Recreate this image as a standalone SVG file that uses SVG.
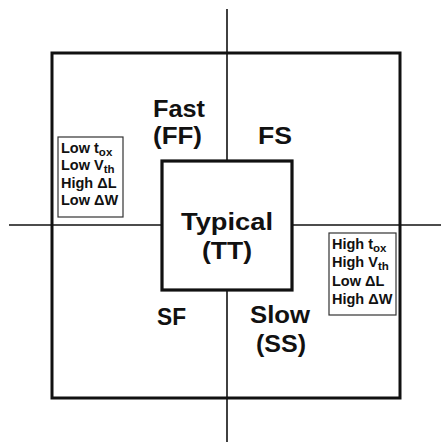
<svg xmlns="http://www.w3.org/2000/svg" width="441" height="443" viewBox="0 0 441 443">
<style>
.big{font-family:"Liberation Sans",Arial,sans-serif;font-weight:bold;font-size:24px;fill:#111}
.sm{font-family:"Liberation Sans",Arial,sans-serif;font-weight:bold;font-size:14.5px;fill:#111}
.sub{font-size:11.5px}
.frame{fill:none;stroke:#111;stroke-width:3}
.axis{stroke:#111;stroke-width:1.6;fill:none}
.tbox{fill:#fff;stroke:#333;stroke-width:1.2}
</style>
<rect width="441" height="443" fill="#fff"/>
<g id="outer"><rect class="frame" x="52" y="53" width="348" height="345"/></g>
<g id="connectors">
<line class="axis" x1="227" y1="9" x2="227" y2="442"/>
<line class="axis" x1="9" y1="225" x2="441" y2="225"/>
</g>
<g id="typical">
<rect x="162" y="161" width="130" height="129" fill="#fff" stroke="#111" stroke-width="3.2"/>
<text class="big" x="227" y="230" text-anchor="middle" font-size="25" textLength="92" lengthAdjust="spacingAndGlyphs">Typical</text>
<text class="big" x="227" y="259" text-anchor="middle" font-size="25" textLength="50" lengthAdjust="spacingAndGlyphs">(TT)</text>
</g>
<g id="ff">
<text class="big" x="153" y="117" textLength="52" lengthAdjust="spacingAndGlyphs">Fast</text>
<text class="big" x="153" y="144" textLength="49" lengthAdjust="spacingAndGlyphs">(FF)</text>
</g>
<g id="fs"><text class="big" x="258" y="144" textLength="34" lengthAdjust="spacingAndGlyphs">FS</text></g>
<g id="sf"><text class="big" x="157" y="325" textLength="29" lengthAdjust="spacingAndGlyphs">SF</text></g>
<g id="ss">
<text class="big" x="250" y="323" textLength="60" lengthAdjust="spacingAndGlyphs">Slow</text>
<text class="big" x="256" y="352" textLength="50" lengthAdjust="spacingAndGlyphs">(SS)</text>
</g>
<g id="fast-params">
<rect class="tbox" x="58" y="137" width="65" height="80"/>
<text class="sm" x="61" y="153">Low t<tspan class="sub" dy="3">ox</tspan></text>
<text class="sm" x="61" y="170">Low V<tspan class="sub" dy="3">th</tspan></text>
<text class="sm" x="61" y="188">High ΔL</text>
<text class="sm" x="61" y="205">Low ΔW</text>
</g>
<g id="slow-params">
<rect class="tbox" x="329" y="233" width="67" height="82"/>
<text class="sm" x="332" y="249">High t<tspan class="sub" dy="3">ox</tspan></text>
<text class="sm" x="332" y="267">High V<tspan class="sub" dy="3">th</tspan></text>
<text class="sm" x="332" y="286">Low ΔL</text>
<text class="sm" x="332" y="304">High ΔW</text>
</g>
</svg>
